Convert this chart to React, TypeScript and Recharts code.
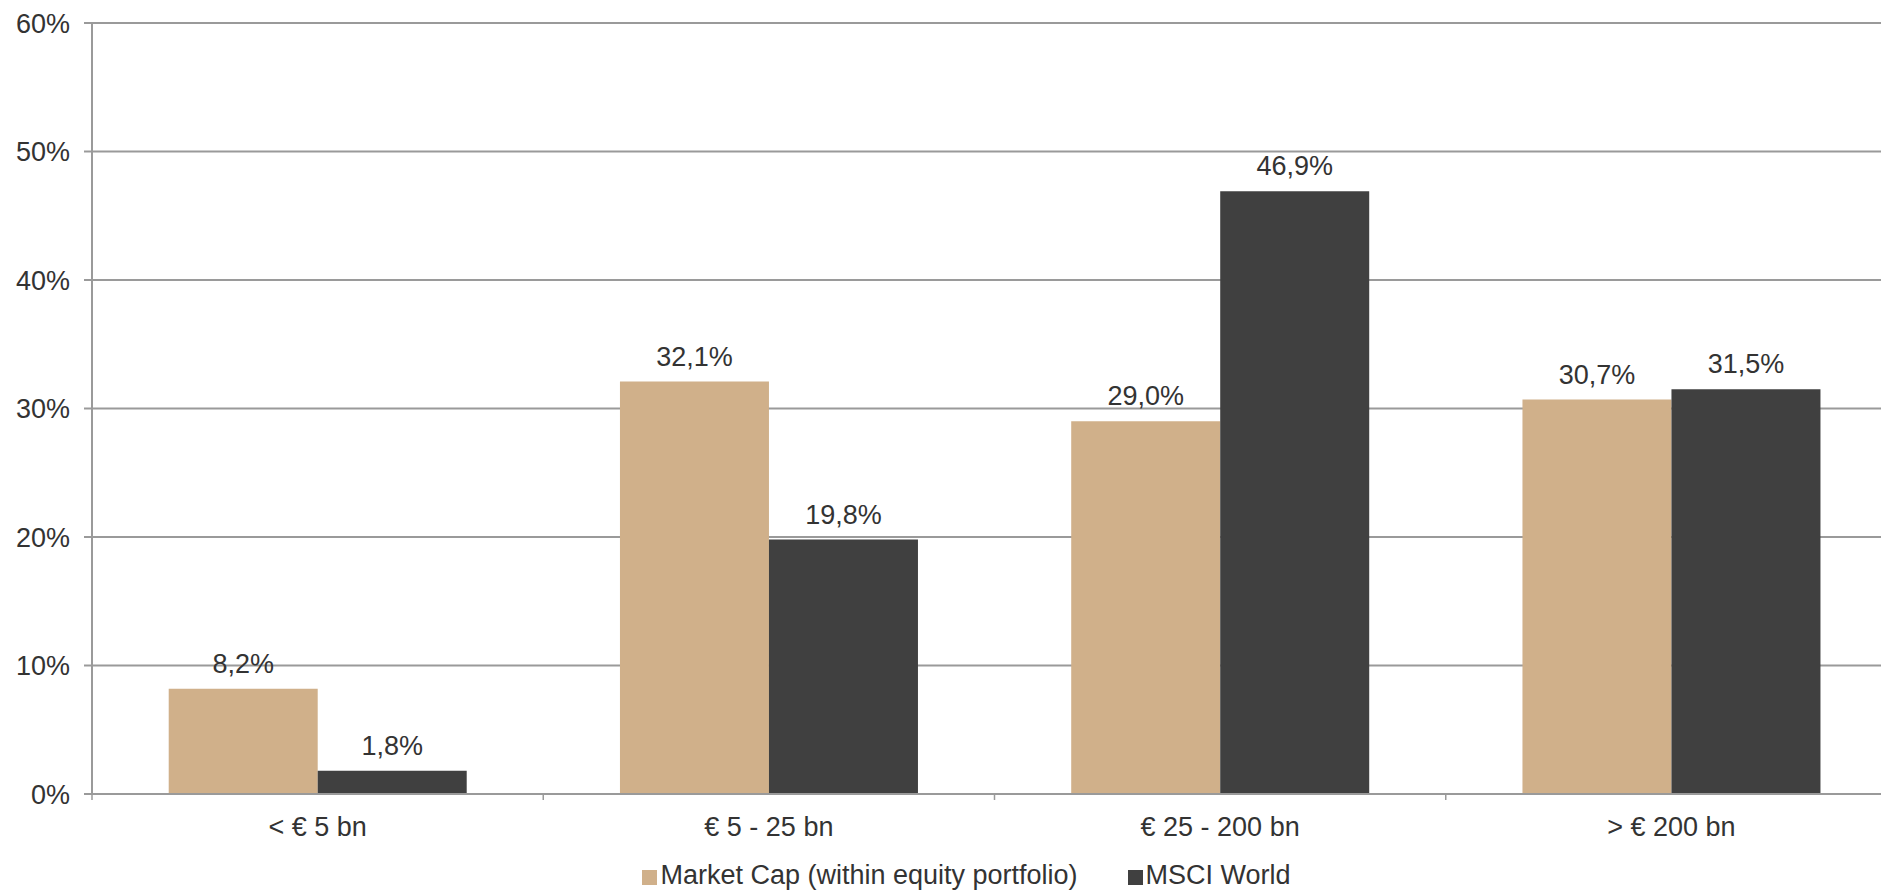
import React from 'react';
import { BarChart, Bar, XAxis, YAxis, CartesianGrid, Legend, LabelList } from 'recharts';

const categories = ['< € 5 bn', '€ 5 - 25 bn', '€ 25 - 200 bn', '> € 200 bn'];
const marketCap = [8.2, 32.1, 29.0, 30.7];
const msciWorld = [1.8, 19.8, 46.9, 31.5];
const yTicks = [0, 10, 20, 30, 40, 50, 60];
const seriesOrder = ['marketCap', 'msci'];

const data = categories.map((cat, i) => ({ cat, marketCap: marketCap[i], msci: msciWorld[i] }));

const FONT = '"Liberation Sans", Arial, sans-serif';
const FS = 27;
const TEXT = '#333333';
const GRID = '#9a9a9a';
const TAN = '#D0B08A';
const DARK = '#404040';
const CHART_W = 1897;
const CHART_H = 890;
const YAXIS_W = 92;

const fmt = (v: number) => v.toFixed(1).replace('.', ',') + '%';

const CatTick = (props: any) => {
  const { x, y, payload, width, visibleTicksCount } = props;
  const band = (width || CHART_W - YAXIS_W) / (visibleTicksCount || categories.length);
  const bx = x - band / 2;
  return (
    <g>
      <line x1={bx} y1={y} x2={bx} y2={y + 6} stroke={GRID} strokeWidth={1.5} />
      <text x={x} y={y + 42} textAnchor="middle" fontSize={FS} fontFamily={FONT} fill={TEXT}>
        {payload.value}
      </text>
    </g>
  );
};

const renderLegend = (props: any) => {
  const items = [...(props.payload || [])].sort(
    (a: any, b: any) => seriesOrder.indexOf(a.dataKey) - seriesOrder.indexOf(b.dataKey)
  );
  return (
    <div
      style={{
        display: 'flex',
        justifyContent: 'center',
        alignItems: 'center',
        height: 30,
        paddingLeft: 36,
        fontFamily: FONT,
        fontSize: FS,
        lineHeight: '30px',
        color: TEXT,
      }}
    >
      {items.map((item: any, i: number) => (
        <div key={i} style={{ display: 'flex', alignItems: 'center', marginRight: i === 0 ? 50 : 0 }}>
          <span
            style={{ display: 'inline-block', width: 15, height: 15, background: item.color, marginRight: 3, marginTop: 4 }}
          />
          <span>{item.value}</span>
        </div>
      ))}
    </div>
  );
};

export default function App() {
  return (
    <div
      style={{
        position: 'absolute',
        left: 0,
        top: 0,
        width: 1881,
        height: CHART_H,
        overflow: 'hidden',
        background: '#fff',
      }}
    >
      <BarChart
        width={CHART_W}
        height={CHART_H}
        data={data}
        margin={{ top: 23, right: 0, bottom: 0, left: 0 }}
        barCategoryGap="17%"
        barGap={0}
      >
        <CartesianGrid vertical={false} stroke={GRID} strokeWidth={2} />
        <XAxis
          dataKey="cat"
          height={66}
          interval={0}
          tickSize={0}
          tickMargin={0}
          tickLine={false}
          axisLine={{ stroke: GRID, strokeWidth: 2 }}
          tick={<CatTick />}
        />
        <YAxis
          width={YAXIS_W}
          domain={[0, 60]}
          ticks={yTicks}
          interval={0}
          tickFormatter={(v: number) => v + '%'}
          tickSize={8}
          tickMargin={14}
          axisLine={{ stroke: GRID, strokeWidth: 2 }}
          tickLine={{ stroke: GRID, strokeWidth: 2 }}
          tick={{ fontSize: FS, fontFamily: FONT, fill: TEXT }}
        />
        <Legend verticalAlign="bottom" align="center" content={renderLegend} />
        <Bar dataKey="marketCap" name="Market Cap (within equity portfolio)" fill={TAN} isAnimationActive={false}>
          <LabelList
            dataKey="marketCap"
            position="top"
            offset={16}
            formatter={(v: any) => fmt(Number(v))}
            style={{ fontSize: FS, fontFamily: FONT, fill: TEXT }}
          />
        </Bar>
        <Bar dataKey="msci" name="MSCI World" fill={DARK} isAnimationActive={false}>
          <LabelList
            dataKey="msci"
            position="top"
            offset={16}
            formatter={(v: any) => fmt(Number(v))}
            style={{ fontSize: FS, fontFamily: FONT, fill: TEXT }}
          />
        </Bar>
      </BarChart>
    </div>
  );
}
